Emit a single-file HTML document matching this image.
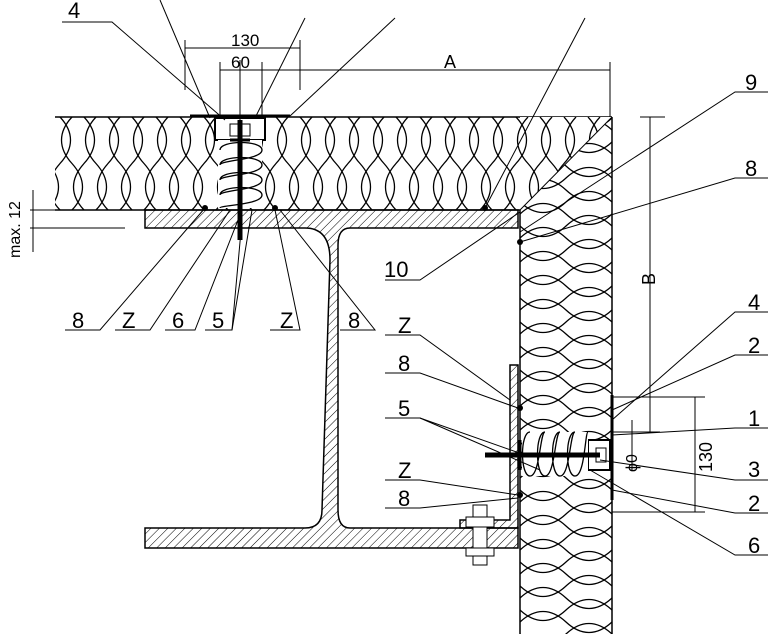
<!DOCTYPE html>
<html><head><meta charset="utf-8"><style>
html,body{margin:0;padding:0;background:#fff;}
svg{display:block;font-family:"Liberation Sans",sans-serif;}
text{font-size:22px;fill:#000;}
</style></head><body>
<svg width="768" height="634" viewBox="0 0 768 634" xmlns="http://www.w3.org/2000/svg">
<defs>
<pattern id="hat" width="6" height="6" patternUnits="userSpaceOnUse" patternTransform="rotate(45)">
<line x1="0" y1="0" x2="0" y2="6" stroke="#000" stroke-width="1"/>
</pattern>
<pattern id="insH" x="60" y="117" width="24" height="93" patternUnits="userSpaceOnUse">
<path d="M0,0 C14,15 14,31 0,46.5 C-14,62 -14,78 0,93 M24,0 C38,15 38,31 24,46.5 C10,62 10,78 24,93 M12,0 C-2,15 -2,31 12,46.5 C26,62 26,78 12,93" fill="none" stroke="#000" stroke-width="1.3"/>
</pattern>
<pattern id="insV" x="520" y="130" width="92" height="24" patternUnits="userSpaceOnUse">
<path d="M0,0 C15,14 31,14 46,0 C61,-14 77,-14 92,0 M0,24 C15,38 31,38 46,24 C61,10 77,10 92,24 M0,12 C15,-2 31,-2 46,12 C61,26 77,26 92,12" fill="none" stroke="#000" stroke-width="1.3"/>
</pattern>
</defs>

<rect x="55" y="117" width="557" height="93" fill="url(#insH)"/>
<line x1="55" y1="117" x2="612" y2="117" stroke="#000" stroke-width="1.5"/>
<line x1="55" y1="210" x2="520" y2="210" stroke="#000" stroke-width="1.5"/>
<rect x="520" y="117" width="92" height="93" fill="#fff"/>
<rect x="520" y="117" width="92" height="517" fill="url(#insV)"/>
<polygon points="520,210 612,117 520,117" fill="#fff"/>
<polygon points="520,210 612,117 520,117" fill="url(#insH)"/>
<line x1="520" y1="210" x2="612" y2="117" stroke="#000" stroke-width="1"/>
<line x1="520" y1="210" x2="520" y2="634" stroke="#000" stroke-width="1.5"/>
<line x1="612" y1="117" x2="612" y2="634" stroke="#000" stroke-width="1.5"/>

<path d="M145,210 L518,210 L518,228 L350,228 Q338,228 338,245 L338,510 Q338,528 350,528 L518,528 L518,548 L145,548 L145,528 L305,528 Q322,528 322,510 L330,260 Q330,228 305,228 L145,228 Z" fill="url(#hat)" stroke="#000" stroke-width="1.5"/>
<path d="M510,365 L518,365 L518,528 L460,528 L460,520 L510,520 Z" fill="url(#hat)" stroke="#000" stroke-width="1.5"/>
<rect x="473" y="505" width="14" height="60" fill="#fff" stroke="#000"/>
<rect x="466" y="517" width="28" height="10" fill="#fff" stroke="#000"/>
<rect x="466" y="548" width="28" height="8" fill="#fff" stroke="#000"/>

<path d="M215,118 L265,118 L265,140 L215,140 Z" fill="#fff" stroke="#000" stroke-width="2"/>
<path d="M190,116 L290,116" stroke="#000" stroke-width="3"/>
<rect x="230" y="124" width="20" height="12" fill="#fff" stroke="#000"/>
<rect x="218" y="140" width="44" height="68" fill="#fff" stroke="none"/>
<path d="M220,150 C220,140 262,140 262,150 C262,160 220,160 220,165 C220,155 262,155 262,165 C262,175 220,175 220,180 C220,170 262,170 262,180 C262,190 220,190 220,195 C220,185 262,185 262,195 C262,205 220,205 220,208" fill="none" stroke="#000" stroke-width="1.3"/>
<line x1="240" y1="120" x2="240" y2="240" stroke="#000" stroke-width="5"/>
<line x1="230" y1="140" x2="250" y2="140" stroke="#000" stroke-width="3"/>
<circle cx="205" cy="208" r="3"/><circle cx="275" cy="208" r="3"/><circle cx="485" cy="208" r="3"/><circle cx="520" cy="242" r="3"/>

<path d="M612,395 L612,500" stroke="#000" stroke-width="3"/>
<rect x="588" y="440" width="22" height="30" fill="#fff" stroke="#000" stroke-width="2"/>
<rect x="596" y="448" width="10" height="14" fill="#fff" stroke="#000"/>
<rect x="522" y="432" width="66" height="44" fill="#fff" stroke="none"/>
<path d="M530,432 C520,432 520,476 530,476 C540,476 540,432 545,432 C535,432 535,476 545,476 C555,476 555,432 560,432 C550,432 550,476 560,476 C570,476 570,432 575,432 C565,432 565,476 575,476 C585,476 585,432 588,432" fill="none" stroke="#000" stroke-width="1.3"/>
<line x1="485" y1="455" x2="600" y2="455" stroke="#000" stroke-width="5"/>
<line x1="520" y1="440" x2="520" y2="470" stroke="#000" stroke-width="3"/>
<circle cx="520" cy="408" r="3"/><circle cx="520" cy="495" r="3"/>

<g stroke="#000" stroke-width="1" fill="none">
<line x1="185" y1="48" x2="300" y2="48"/><line x1="185" y1="40" x2="185" y2="90"/><line x1="300" y1="40" x2="300" y2="90"/>
<line x1="220" y1="70" x2="262" y2="70"/><line x1="220" y1="62" x2="220" y2="118"/><line x1="262" y1="62" x2="262" y2="118"/>
<line x1="262" y1="70" x2="610" y2="70"/><line x1="610" y1="62" x2="610" y2="117"/>
<line x1="240" y1="60" x2="240" y2="120"/>
<line x1="640" y1="117" x2="665" y2="117"/><line x1="650" y1="117" x2="650" y2="432"/><line x1="612" y1="432" x2="660" y2="432"/>
<line x1="612" y1="397" x2="705" y2="397"/><line x1="612" y1="512" x2="705" y2="512"/><line x1="695" y1="397" x2="695" y2="512"/>
<line x1="632" y1="420" x2="632" y2="470"/>
<line x1="30" y1="210" x2="125" y2="210"/><line x1="30" y1="228" x2="125" y2="228"/><line x1="33" y1="190" x2="33" y2="252"/>
<polyline points="62,22 112,22 225,120"/>
<line x1="160" y1="0" x2="210" y2="118"/>
<line x1="305" y1="18" x2="255" y2="118"/>
<line x1="395" y1="18" x2="290" y2="116"/>
<line x1="585" y1="18" x2="485" y2="208"/>
<polyline points="770,92 735,92 520,232"/>
<polyline points="770,178 735,178 520,242"/>
<polyline points="385,280 420,280 520,212"/>
<polyline points="65,330 100,330 205,208"/>
<polyline points="115,330 150,330 230,210"/>
<polyline points="165,330 195,330 238,220"/>
<polyline points="205,330 232,330 242,220"/>
<line x1="232" y1="330" x2="252" y2="210"/>
<polyline points="270,330 300,330 275,210"/>
<polyline points="340,330 375,330 280,210"/>
<polyline points="385,335 420,335 510,400"/>
<polyline points="385,373 420,373 518,408"/>
<polyline points="385,418 420,418 525,455"/>
<line x1="420" y1="418" x2="540" y2="470"/>
<polyline points="385,480 420,480 518,495"/>
<polyline points="385,508 420,508 518,498"/>
<polyline points="770,312 735,312 612,420"/>
<polyline points="770,355 735,355 612,410"/>
<polyline points="770,428 735,428 612,435"/>
<polyline points="770,480 735,480 600,460"/>
<polyline points="770,513 735,513 612,490"/>
<polyline points="770,555 735,555 590,470"/>
</g>

<text x="68" y="18">4</text>
<text x="231" y="46" style="font-size:17px">130</text>
<text x="231" y="68" style="font-size:17px">60</text>
<text x="444" y="68" style="font-size:18px">A</text>
<text x="745" y="90">9</text>
<text x="745" y="176">8</text>
<text x="20" y="258" transform="rotate(-90 20 258)" style="font-size:16px">max. 12</text>
<text x="655" y="285" transform="rotate(-90 655 285)" style="font-size:18px">B</text>
<text x="384" y="277">10</text>
<text x="748" y="310">4</text>
<text x="748" y="353">2</text>
<text x="398" y="333">Z</text>
<text x="398" y="371">8</text>
<text x="748" y="426">1</text>
<text x="398" y="416">5</text>
<text x="637" y="472" transform="rotate(-90 637 472)" style="font-size:16px">ϕ0</text>
<text x="712" y="472" transform="rotate(-90 712 472)" style="font-size:18px">130</text>
<text x="748" y="477">3</text>
<text x="398" y="478">Z</text>
<text x="398" y="506">8</text>
<text x="748" y="511">2</text>
<text x="748" y="553">6</text>
<text x="72" y="328">8</text>
<text x="122" y="328">Z</text>
<text x="172" y="328">6</text>
<text x="212" y="328">5</text>
<text x="280" y="328">Z</text>
<text x="348" y="328">8</text>
</svg>
</body></html>
